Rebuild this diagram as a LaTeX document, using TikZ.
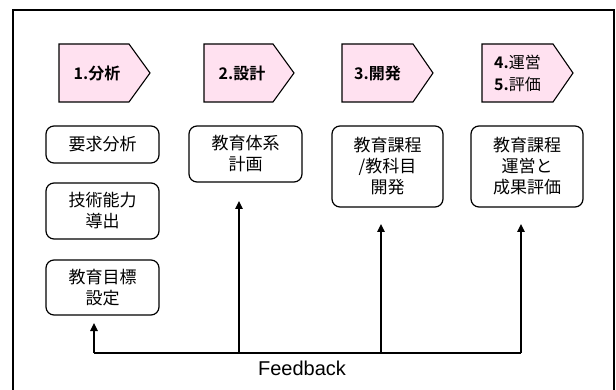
\documentclass[tikz,border=0pt]{standalone}
\usepackage{fontspec}
\setmainfont{Noto Sans CJK JP}[BoldFont={Noto Sans CJK JP Bold}]
\newfontfamily\latinfont{Liberation Sans}
\usetikzlibrary{arrows.meta}
\definecolor{pinkfill}{HTML}{FFE1F0}
\tikzset{
  frameline/.style={line width=1.4pt},
  stagebox/.style={draw, fill=pinkfill, line width=1.1pt, line join=miter},
  stagetext/.style={font=\fontsize{16}{20}\selectfont\bfseries, align=left, inner sep=0pt},
  stagetextlight/.style={font=\fontsize{16}{22}\selectfont, align=left, inner sep=0pt},
  taskbox/.style={draw, line width=1.2pt, rounded corners=8pt, align=center,
    font=\fontsize{17}{21}\selectfont, inner sep=0pt},
  arr/.style={line width=1.3pt, -{Triangle[length=8pt,width=7.5pt]}},
  fbline/.style={line width=1.3pt}
}
\newcommand\mypent[3]{% left, bodyend, tip
  \draw[stagebox] (#1,44) -- (#2,44) -- (#3,73) -- (#2,102) -- (#1,102) -- cycle;
}
\begin{document}
\begin{tikzpicture}[x=1pt,y=-1pt]
\useasboundingbox (0,0) rectangle (616,390);
% outer frame (open at bottom)
\draw[frameline] (13,392) -- (13,10) -- (614,10) -- (614,392);

% stage pentagons
\mypent{59}{129}{150}
\mypent{204}{273}{294}
\mypent{342}{413}{433}
\mypent{482}{553}{573}
\node[stagetext] (s1) at (97,73) {1.分析};
\node[stagetext] (s2) at (242,73) {2.設計};
\node[stagetext] (s3) at (377.5,73) {3.開発};
\node[stagetextlight] (s4) at (517.5,73) {\textbf{4.}運営\\\textbf{5.}評価};

% task boxes
\node[taskbox, minimum width=113pt, minimum height=37pt] (b1) at (102.5,144.5) {要求分析};
\node[taskbox, minimum width=113pt, minimum height=56pt] (b2) at (102.5,211) {技術能力\\導出};
\node[taskbox, minimum width=113pt, minimum height=55pt] (b3) at (102.5,287.5) {教育目標\\設定};
\node[taskbox, minimum width=113pt, minimum height=56pt] (b4) at (245.5,154) {教育体系\\計画};
\node[taskbox, minimum width=111pt, minimum height=81pt] (b5) at (387.5,166.5) {教育課程\\/教科目\\開発};
\node[taskbox, minimum width=112pt, minimum height=81pt] (b6) at (527,166.5) {教育課程\\運営と\\成果評価};

% feedback connectors
\coordinate (j3) at (94,353);
\coordinate (j4) at (239,353);
\coordinate (j5) at (381,353);
\coordinate (j6) at (521,353);
\coordinate (t3) at (94,323);
\coordinate (t4) at (239,201);
\coordinate (t5) at (381,224);
\coordinate (t6) at (521,224);
\draw[fbline] (j6) -- (j3);
\draw[arr] (j3) -- (t3);
\draw[arr] (j4) -- (t4);
\draw[arr] (j5) -- (t5);
\draw[arr] (j6) -- (t6);
\node[font=\latinfont\fontsize{20}{24}\selectfont, inner sep=0pt] (fb) at (302,368) {Feedback};
\end{tikzpicture}
\end{document}
